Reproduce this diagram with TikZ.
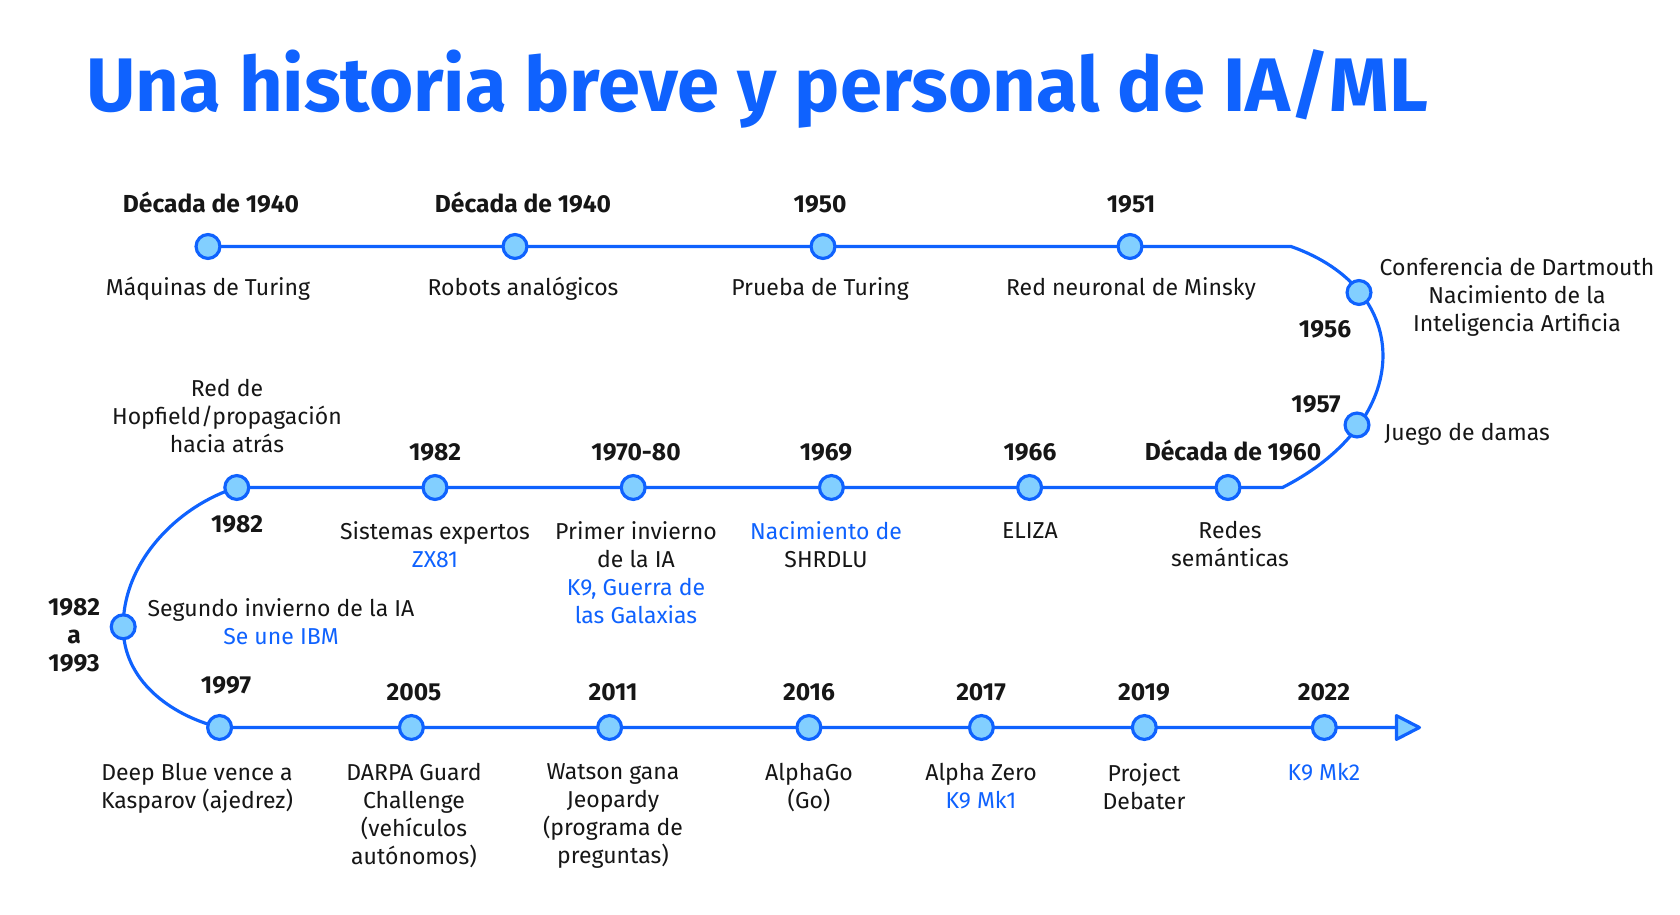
\documentclass[tikz,border=0pt]{standalone}
\usepackage{fontspec}
\setmainfont{Fira Sans}
\usetikzlibrary{arrows.meta,backgrounds}

\definecolor{tlblue}{HTML}{0F62FE}
\definecolor{tlcyan}{HTML}{82CFFF}
\definecolor{tltext}{HTML}{161616}
\newcommand{\hl}[1]{\textcolor{tlblue}{#1}}

\begin{document}
\begin{tikzpicture}[
    x=0.02cm, y=-0.02cm,
    dot/.style={
        circle,
        draw=tlblue,
        fill=tlcyan,
        line width=1.8pt,
        minimum size=13.6pt,
        inner sep=0pt
    },
    tline/.style={draw=tlblue, line width=1.8pt},
    title/.style={font=\fontsize{43.2}{48}\selectfont\bfseries, text=tlblue, inner sep=0pt},
    year/.style={font=\fontsize{14}{15.9}\selectfont\bfseries, text=tltext, anchor=base, inner sep=0pt},
    lbl/.style={font=\fontsize{13.1}{15.9}\selectfont, text=tltext, align=center, anchor=north, inner sep=0pt}
]

\useasboundingbox (0,0) rectangle (1680,915);

% --- Row heights ---
\def\yA{246.5}
\def\yB{487.5}
\def\yC{727.5}

% --- Title ---
\node[title, anchor=base west] (title) at (86,112) {Una historia breve y personal de IA/ML};

% --- Dots, row 1 ---
\node[dot] (d1940a) at (208,\yA) {};
\node[dot] (d1940b) at (515,\yA) {};
\node[dot] (d1950)  at (823,\yA) {};
\node[dot] (d1951)  at (1130,\yA) {};
\coordinate (r1end) at (1291,\yA);

% --- Dots, right bend ---
\node[dot] (d1956) at (1359,292.5) {};
\node[dot] (d1957) at (1357,425) {};
\coordinate (r2end) at (1282.5,\yB);

% --- Dots, row 2 ---
\node[dot] (d1960)  at (1228,\yB) {};
\node[dot] (d1966)  at (1029.6,\yB) {};
\node[dot] (d1969)  at (831.4,\yB) {};
\node[dot] (d1970)  at (633.2,\yB) {};
\node[dot] (d1982b) at (435,\yB) {};
\node[dot] (d1982a) at (236.8,\yB) {};

% --- Dot, left bend ---
\node[dot] (d1993) at (123.2,626.8) {};

% --- Dots, row 3 ---
\node[dot] (d1997) at (219.6,\yC) {};
\node[dot] (d2005) at (411.4,\yC) {};
\node[dot] (d2011) at (609.6,\yC) {};
\node[dot] (d2016) at (808.9,\yC) {};
\node[dot] (d2017) at (981.4,\yC) {};
\node[dot] (d2019) at (1144.3,\yC) {};
\node[dot] (d2022) at (1324.3,\yC) {};
\coordinate (tip) at (1421,\yC);

% --- Timeline ---
\begin{pgfonlayer}{background}
\draw[tline, -{Triangle[length=16pt, width=16pt, round, fill=tlcyan]}]
    (d1940a.center) -- (r1end)
    .. controls (1415,290) and (1415,420) .. (r2end)
    -- (d1982a.center)
    .. controls (180,505) and (123,560) .. (d1993.center)
    .. controls (123,680) and (170,715) .. (d1997.center)
    -- (tip);
\end{pgfonlayer}

% --- Row 1 labels ---
\node[year] (y1940a) at (211,213) {Década de 1940};
\node[year] (y1940b) at (523,213) {Década de 1940};
\node[year] (y1950)  at (820,213) {1950};
\node[year] (y1951)  at (1131,213) {1951};

\node[lbl] (t1940a) at (208,277) {Máquinas de Turing};
\node[lbl] (t1940b) at (523,277) {Robots analógicos};
\node[lbl] (t1950)  at (820,277) {Prueba de Turing};
\node[lbl] (t1951)  at (1131,277) {Red neuronal de Minsky};

% --- Right bend labels ---
\node[lbl] (t1956) at (1517,257) {Conferencia de Dartmouth\\Nacimiento de la\\Inteligencia Artificia};
\node[year] (y1956) at (1325,338) {1956};
\node[year] (y1957) at (1316,413) {1957};
\node[lbl, anchor=base west] (t1957) at (1384,440) {Juego de damas};

% --- Row 2 labels ---
\node[year] (y1960)  at (1233,460) {Década de 1960};
\node[year] (y1966)  at (1030,460) {1966};
\node[year] (y1969)  at (826,460) {1969};
\node[year] (y1970)  at (636,460) {1970-80};
\node[year] (y1982b) at (435,460) {1982};
\node[lbl]  (t1982a) at (227,379) {Red de\\Hopfield/propagación\\hacia atrás};
\node[year] (y1982a) at (237,532) {1982};

\node[lbl] (t1960)  at (1230,521) {Redes\\semánticas};
\node[lbl] (t1966)  at (1030,522) {ELIZA};
\node[lbl] (t1969)  at (826,521) {\hl{Nacimiento de}\\SHRDLU};
\node[lbl] (t1970)  at (636,521) {Primer invierno\\de la IA\\\hl{K9, Guerra de}\\\hl{las Galaxias}};
\node[lbl] (t1982b) at (435,521) {Sistemas expertos\\\hl{ZX81}};

% --- Left bend labels ---
\node[lbl, font=\fontsize{14}{15.9}\selectfont\bfseries] (y1993) at (74,598) {1982\\a\\1993};
\node[lbl] (t1993) at (281,598) {Segundo invierno de la IA\\\hl{Se une IBM}};

% --- Row 3 labels ---
\node[year] (y1997) at (226,693) {1997};
\node[year] (y2005) at (414,700) {2005};
\node[year] (y2011) at (613,700) {2011};
\node[year] (y2016) at (809,700) {2016};
\node[year] (y2017) at (981,700) {2017};
\node[year] (y2019) at (1144,700) {2019};
\node[year] (y2022) at (1324,700) {2022};

\node[lbl] (t1997) at (197,763) {Deep Blue vence a\\Kasparov (ajedrez)};
\node[lbl] (t2005) at (414,763) {DARPA Guard\\Challenge\\(vehículos\\autónomos)};
\node[lbl] (t2011) at (613,763) {Watson gana\\Jeopardy\\(programa de\\preguntas)};
\node[lbl] (t2016) at (809,763) {AlphaGo\\(Go)};
\node[lbl] (t2017) at (981,763) {Alpha Zero\\\hl{K9 Mk1}};
\node[lbl] (t2019) at (1144,763) {Project\\Debater};
\node[lbl] (t2022) at (1324,763) {\hl{K9 Mk2}};

\end{tikzpicture}
\end{document}
